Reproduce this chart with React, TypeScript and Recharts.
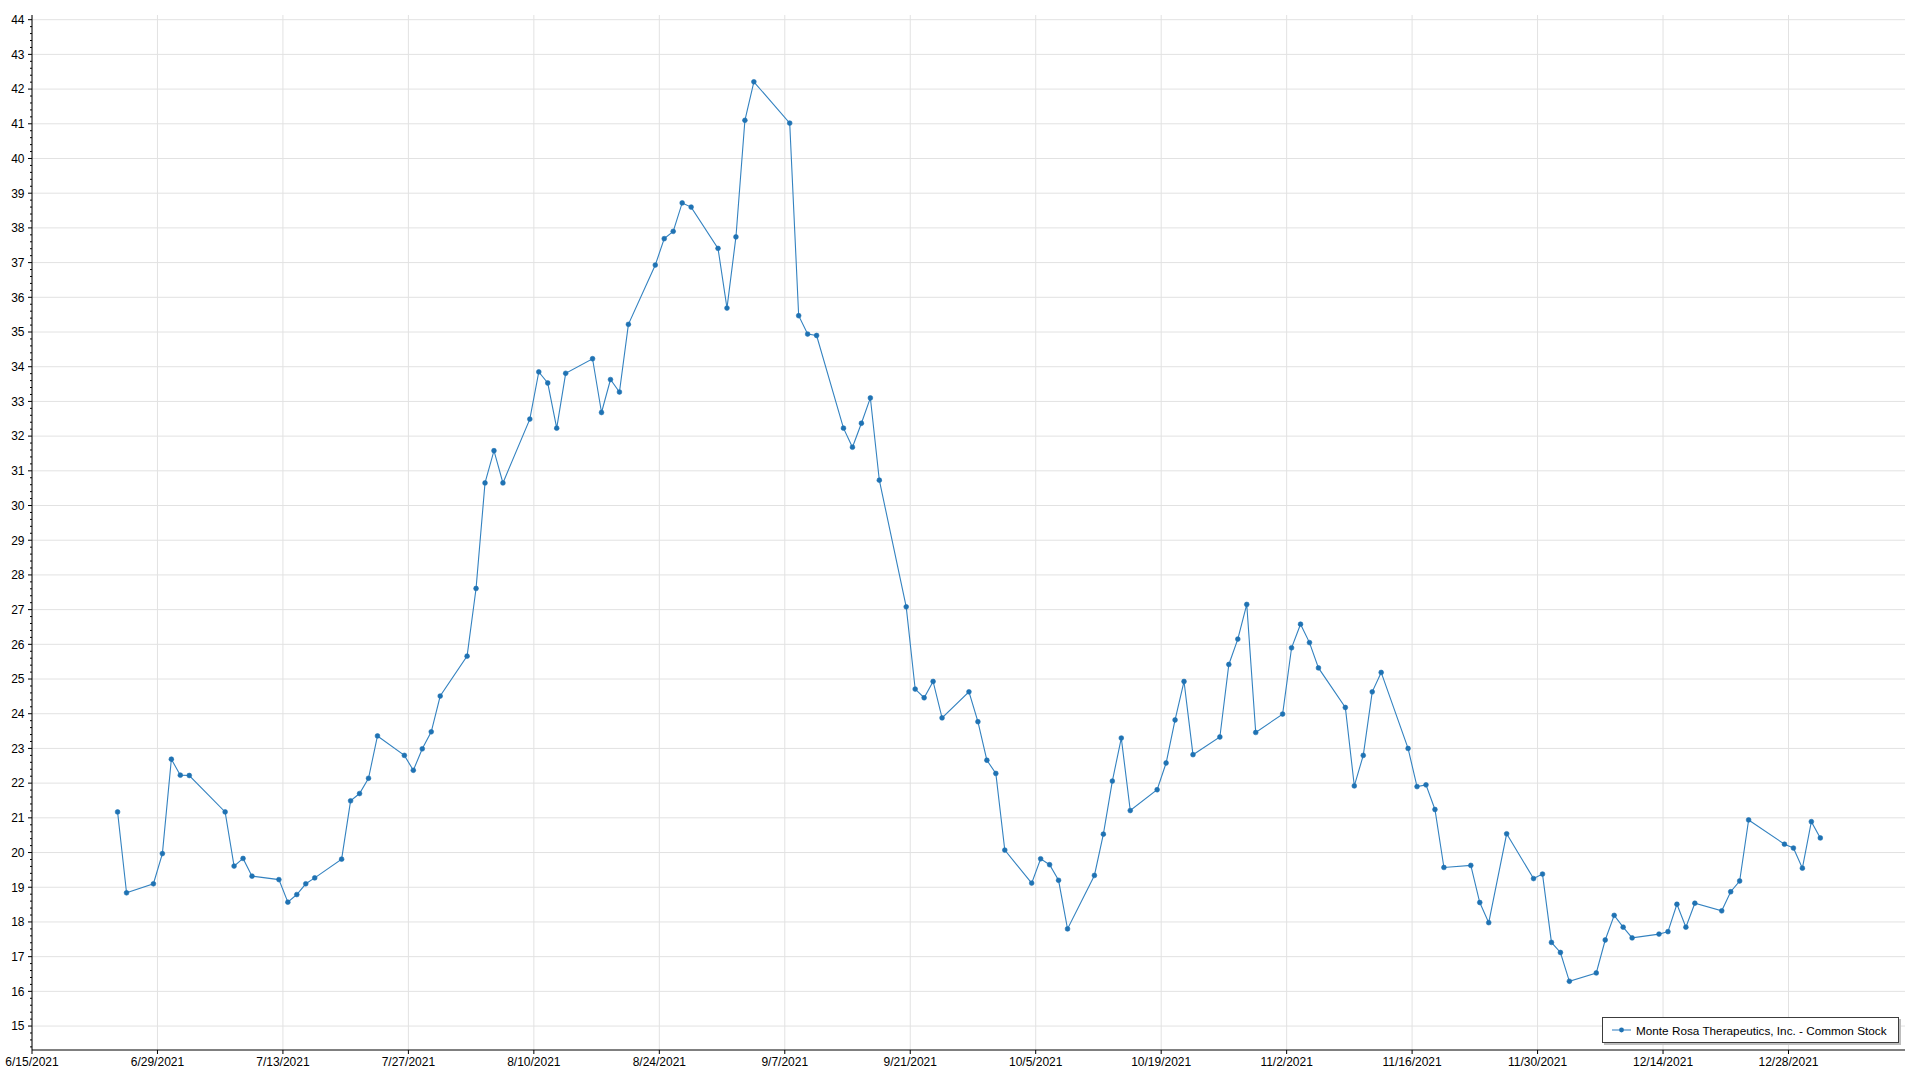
import React from 'react';
import { LineChart, Line, XAxis, YAxis, CartesianGrid, Legend } from 'recharts';

// ---- data ----
const DATES = [
  '2021-06-24', '2021-06-25', '2021-06-28', '2021-06-29', '2021-06-30', '2021-07-01', '2021-07-02',
  '2021-07-06', '2021-07-07', '2021-07-08', '2021-07-09', '2021-07-12', '2021-07-13', '2021-07-14',
  '2021-07-15', '2021-07-16', '2021-07-19', '2021-07-20', '2021-07-21', '2021-07-22', '2021-07-23',
  '2021-07-26', '2021-07-27', '2021-07-28', '2021-07-29', '2021-07-30', '2021-08-02', '2021-08-03',
  '2021-08-04', '2021-08-05', '2021-08-06', '2021-08-09', '2021-08-10', '2021-08-11', '2021-08-12',
  '2021-08-13', '2021-08-16', '2021-08-17', '2021-08-18', '2021-08-19', '2021-08-20', '2021-08-23',
  '2021-08-24', '2021-08-25', '2021-08-26', '2021-08-27', '2021-08-30', '2021-08-31', '2021-09-01',
  '2021-09-02', '2021-09-03', '2021-09-07', '2021-09-08', '2021-09-09', '2021-09-10', '2021-09-13',
  '2021-09-14', '2021-09-15', '2021-09-16', '2021-09-17', '2021-09-20', '2021-09-21', '2021-09-22',
  '2021-09-23', '2021-09-24', '2021-09-27', '2021-09-28', '2021-09-29', '2021-09-30', '2021-10-01',
  '2021-10-04', '2021-10-05', '2021-10-06', '2021-10-07', '2021-10-08', '2021-10-11', '2021-10-12',
  '2021-10-13', '2021-10-14', '2021-10-15', '2021-10-18', '2021-10-19', '2021-10-20', '2021-10-21',
  '2021-10-22', '2021-10-25', '2021-10-26', '2021-10-27', '2021-10-28', '2021-10-29', '2021-11-01',
  '2021-11-02', '2021-11-03', '2021-11-04', '2021-11-05', '2021-11-08', '2021-11-09', '2021-11-10',
  '2021-11-11', '2021-11-12', '2021-11-15', '2021-11-16', '2021-11-17', '2021-11-18', '2021-11-19',
  '2021-11-22', '2021-11-23', '2021-11-24', '2021-11-26', '2021-11-29', '2021-11-30', '2021-12-01',
  '2021-12-02', '2021-12-03', '2021-12-06', '2021-12-07', '2021-12-08', '2021-12-09', '2021-12-10',
  '2021-12-13', '2021-12-14', '2021-12-15', '2021-12-16', '2021-12-17', '2021-12-20', '2021-12-21',
  '2021-12-22', '2021-12-23', '2021-12-27', '2021-12-28', '2021-12-29', '2021-12-30', '2021-12-31',
];

const PRICES = [
  21.17, 18.84, 19.10, 19.97, 22.69, 22.23, 22.22,
  21.17, 19.61, 19.83, 19.32, 19.22, 18.57, 18.79,
  19.10, 19.27, 19.81, 21.49, 21.70, 22.14, 23.36,
  22.80, 22.37, 22.99, 23.48, 24.51, 25.66, 27.61,
  30.65, 31.58, 30.65, 32.49, 33.85, 33.53, 32.23,
  33.81, 34.23, 32.68, 33.63, 33.27, 35.22, 36.93,
  37.69, 37.90, 38.72, 38.60, 37.41, 35.69, 37.74,
  41.10, 42.21, 41.02, 35.47, 34.94, 34.90, 32.23,
  31.68, 32.37, 33.10, 30.73, 27.08, 24.71, 24.46,
  24.93, 23.88, 24.63, 23.77, 22.66, 22.28, 20.07,
  19.12, 19.82, 19.65, 19.20, 17.80, 19.34, 20.53,
  22.06, 23.30, 21.21, 21.81, 22.58, 23.82, 24.93,
  22.82, 23.33, 25.42, 26.15, 27.15, 23.46, 23.99,
  25.90, 26.58, 26.05, 25.32, 24.18, 21.92, 22.80,
  24.63, 25.19, 23.00, 21.90, 21.95, 21.24, 19.57,
  19.63, 18.56, 17.98, 20.54, 19.25, 19.38, 17.41,
  17.12, 16.29, 16.53, 17.48, 18.19, 17.85, 17.54,
  17.65, 17.72, 18.51, 17.85, 18.54, 18.32, 18.87,
  19.18, 20.94, 20.24, 20.13, 19.55, 20.89, 20.42,
];

const X_TICK_LABELS = [
  '6/15/2021', '6/29/2021', '7/13/2021', '7/27/2021', '8/10/2021', '8/24/2021', '9/7/2021',
  '9/21/2021', '10/5/2021', '10/19/2021', '11/2/2021', '11/16/2021', '11/30/2021', '12/14/2021',
  '12/28/2021',
];
const X_END_LABEL = '1/10/2022';

const Y_TICKS = [15, 16, 17, 18, 19, 20, 21, 22, 23, 24, 25, 26, 27, 28, 29, 30,
  31, 32, 33, 34, 35, 36, 37, 38, 39, 40, 41, 42, 43, 44];
const Y_DOMAIN: [number, number] = [14.31, 44.135];

const SERIES_NAME = 'Monte Rosa Therapeutics, Inc. - Common Stock';

// time-of-day of each quote, as a fraction of a day
const QUOTE_TIME_OF_DAY = 0.55;

// ---- helpers ----
const DAY_MS = 86400000;
const ORIGIN = Date.UTC(2021, 5, 15);
const dayFromIso = (s: string) => {
  const [y, m, d] = s.split('-').map(Number);
  return (Date.UTC(y, m - 1, d) - ORIGIN) / DAY_MS;
};
const dayFromLabel = (s: string) => {
  const [m, d, y] = s.split('/').map(Number);
  return (Date.UTC(y, m - 1, d) - ORIGIN) / DAY_MS;
};
const labelFromDay = (v: number) => {
  const dt = new Date(ORIGIN + Math.round(v) * DAY_MS);
  return `${dt.getUTCMonth() + 1}/${dt.getUTCDate()}/${dt.getUTCFullYear()}`;
};

const data = DATES.map((d, i) => ({ x: dayFromIso(d) + QUOTE_TIME_OF_DAY, price: PRICES[i] }));
const X_TICKS = X_TICK_LABELS.map(dayFromLabel);
const X_DOMAIN: [number, number] = [X_TICKS[0], dayFromLabel(X_END_LABEL)];

const Y_ALL_TICKS: number[] = [];
for (let i = Math.ceil(Y_DOMAIN[0] * 5); i <= Math.floor(Y_DOMAIN[1] * 5); i++) {
  Y_ALL_TICKS.push(Math.round(i * 20) / 100);
}

const FONT = '"Liberation Sans", Arial, sans-serif';
const TICK_GAP = 7;

const YTick = (props: any) => {
  const { x, y, payload } = props;
  const v = payload.value as number;
  const major = Math.abs(v - Math.round(v)) < 1e-6;
  const ax = x + TICK_GAP;
  return (
    <g>
      <line x1={ax} x2={ax - (major ? 4 : 2)} y1={y} y2={y} stroke="#000" strokeWidth={1} />
      {major && (
        <text x={x - 0.5} y={y} dy="0.36em" textAnchor="end" fill="#000" fontSize={12} fontFamily={FONT}>
          {v}
        </text>
      )}
    </g>
  );
};

const LegendBox = () => (
  <div
    style={{
      boxSizing: 'border-box',
      width: 297,
      height: 26,
      border: '1px solid #3c3c3c',
      boxShadow: '2px 2px 0 #bdbdbd',
      background: '#fff',
      display: 'flex',
      alignItems: 'center',
      fontFamily: FONT,
      fontSize: 11.75,
      color: '#000',
      whiteSpace: 'nowrap',
    }}
  >
    <svg width={26} height={10} style={{ marginLeft: 7, marginRight: 0 }}>
      <line x1={2} x2={21} y1={5} y2={5} stroke="#6fa6d4" strokeWidth={1.5} />
      <circle cx={11.5} cy={5} r={2.4} fill="#1f72b3" />
    </svg>
    <span>{SERIES_NAME}</span>
  </div>
);

export default function App() {
  return (
    <div style={{ position: 'absolute', left: 0, top: 0, width: 1920, height: 1080, background: '#fff' }}>
      <LineChart width={1920} height={1080} data={data} margin={{ top: 15, right: 15, bottom: 0, left: 0 }}>
        <CartesianGrid horizontal vertical={false} horizontalValues={Y_TICKS} stroke="#e2e2e2" />
        <CartesianGrid horizontal={false} vertical verticalValues={X_TICKS} stroke="#e2e2e2" />
        <XAxis
          dataKey="x"
          type="number"
          domain={X_DOMAIN}
          ticks={X_TICKS}
          interval={0}
          allowDataOverflow
          tickFormatter={labelFromDay}
          height={30}
          tickSize={4}
          tickMargin={3}
          stroke="#000"
          tick={{ fill: '#000', fontSize: 12, fontFamily: FONT }}
        />
        <XAxis
          xAxisId="top"
          orientation="top"
          type="number"
          domain={X_DOMAIN}
          height={0}
          tick={false}
          tickLine={false}
          stroke="#000"
        />
        <YAxis
          type="number"
          domain={Y_DOMAIN}
          ticks={Y_ALL_TICKS}
          interval={0}
          allowDataOverflow
          width={32}
          tick={<YTick />}
          tickLine={false}
          tickSize={0}
          tickMargin={TICK_GAP}
          stroke="#000"
        />
        <YAxis
          yAxisId="right"
          orientation="right"
          type="number"
          domain={Y_DOMAIN}
          width={0}
          tick={false}
          tickLine={false}
          stroke="#000"
        />
        <Line
          dataKey="price"
          name={SERIES_NAME}
          stroke="#3382c0"
          strokeWidth={1.1}
          dot={{ r: 2.4, fill: '#1f72b3', stroke: '#1f72b3', strokeWidth: 0.6 }}
          isAnimationActive={false}
        />
        <Legend
          layout="horizontal"
          verticalAlign="middle"
          align="center"
          content={() => <LegendBox />}
          wrapperStyle={{ position: 'absolute', left: 1602, top: 1017, width: 'auto', height: 'auto' }}
        />
      </LineChart>
    </div>
  );
}
